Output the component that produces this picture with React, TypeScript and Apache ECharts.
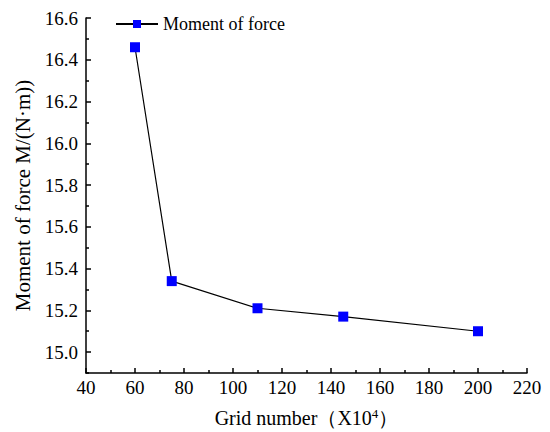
import React, { useEffect, useRef } from "react";
import * as echarts from "echarts";

const gridNumbers = [60, 75, 110, 145, 200];
const moments = [16.46, 15.34, 15.21, 15.17, 15.1];
const yMajorTicks = [15.0, 15.2, 15.4, 15.6, 15.8, 16.0, 16.2, 16.4, 16.6];
const yMinorTicks = [14.9, 15.1, 15.3, 15.5, 15.7, 15.9, 16.1, 16.3, 16.5];
const seriesName = "Moment of force";

const FONT = "'Liberation Serif', 'Times New Roman', serif";

export default function App() {
  const ref = useRef<HTMLDivElement>(null);
  useEffect(() => {
    document.body.style.margin = "0";
    const chart = echarts.init(ref.current!, null, { renderer: "svg" });
    const labelStyle = { fontFamily: FONT, fontSize: 19, color: "#000" };
    chart.setOption({
      animation: false,
      backgroundColor: "#ffffff",
      textStyle: { fontFamily: FONT, fontSize: 19, color: "#000" },
      grid: { left: 86, right: 23, top: 18, bottom: 59, containLabel: false, outerBoundsMode: "none" },
      legend: {
        data: [seriesName],
        left: 110,
        top: 10,
        itemWidth: 42,
        itemHeight: 10,
        itemGap: 4,
        textStyle: { fontFamily: FONT, fontSize: 18, color: "#000" },
      },
      xAxis: {
        type: "value",
        min: 40,
        max: 220,
        interval: 20,
        name: "Grid number（X10{sup|4}）",
        nameLocation: "middle",
        nameGap: 34,
        nameTextStyle: {
          fontFamily: FONT,
          fontSize: 20,
          color: "#000",
          rich: {
            sup: { fontSize: 13, verticalAlign: "top", padding: [0, 0, 9, 0], fontFamily: FONT, color: "#000" },
          },
        },
        axisLine: { show: true, onZero: false, lineStyle: { color: "#000", width: 1.5 } },
        axisTick: { show: true, inside: true, length: 5, lineStyle: { color: "#000", width: 1.5 } },
        minorTick: { show: true, splitNumber: 2, length: 3, lineStyle: { color: "#000", width: 1.5 } },
        axisLabel: { margin: 5, ...labelStyle },
        splitLine: { show: false },
      },
      yAxis: [
        {
          type: "value",
          min: 14.9,
          max: 16.6,
          interval: 0.1,
          name: "Moment of force M/(N·m))",
          nameLocation: "middle",
          nameGap: 47,
          nameRotate: 90,
          nameTextStyle: { fontFamily: FONT, fontSize: 21, color: "#000" },
          axisLine: { show: true, onZero: false, lineStyle: { color: "#000", width: 1.5 } },
          axisTick: {
            show: true,
            inside: true,
            length: 5,
            customValues: yMajorTicks,
            lineStyle: { color: "#000", width: 1.5 },
          },
          axisLabel: {
            margin: 8,
            customValues: yMajorTicks,
            formatter: (v: number) => v.toFixed(1),
            ...labelStyle,
          },
          splitLine: { show: false },
        },
        {
          type: "value",
          min: 14.9,
          max: 16.6,
          interval: 0.1,
          position: "left",
          axisLine: { show: false },
          axisTick: {
            show: true,
            inside: true,
            length: 3,
            customValues: yMinorTicks,
            lineStyle: { color: "#000", width: 1.5 },
          },
          axisLabel: { show: false },
          splitLine: { show: false },
        },
      ],
      series: [
        {
          name: seriesName,
          type: "line",
          data: gridNumbers.map((x, i) => [x, moments[i]]),
          symbol: "rect",
          symbolSize: 10,
          itemStyle: { color: "#0000ff", borderWidth: 0 },
          lineStyle: { color: "#000", width: 1.2 },
        },
      ],
    });
    return () => chart.dispose();
  }, []);
  return <div ref={ref} style={{ width: 550, height: 432 }} />;
}
